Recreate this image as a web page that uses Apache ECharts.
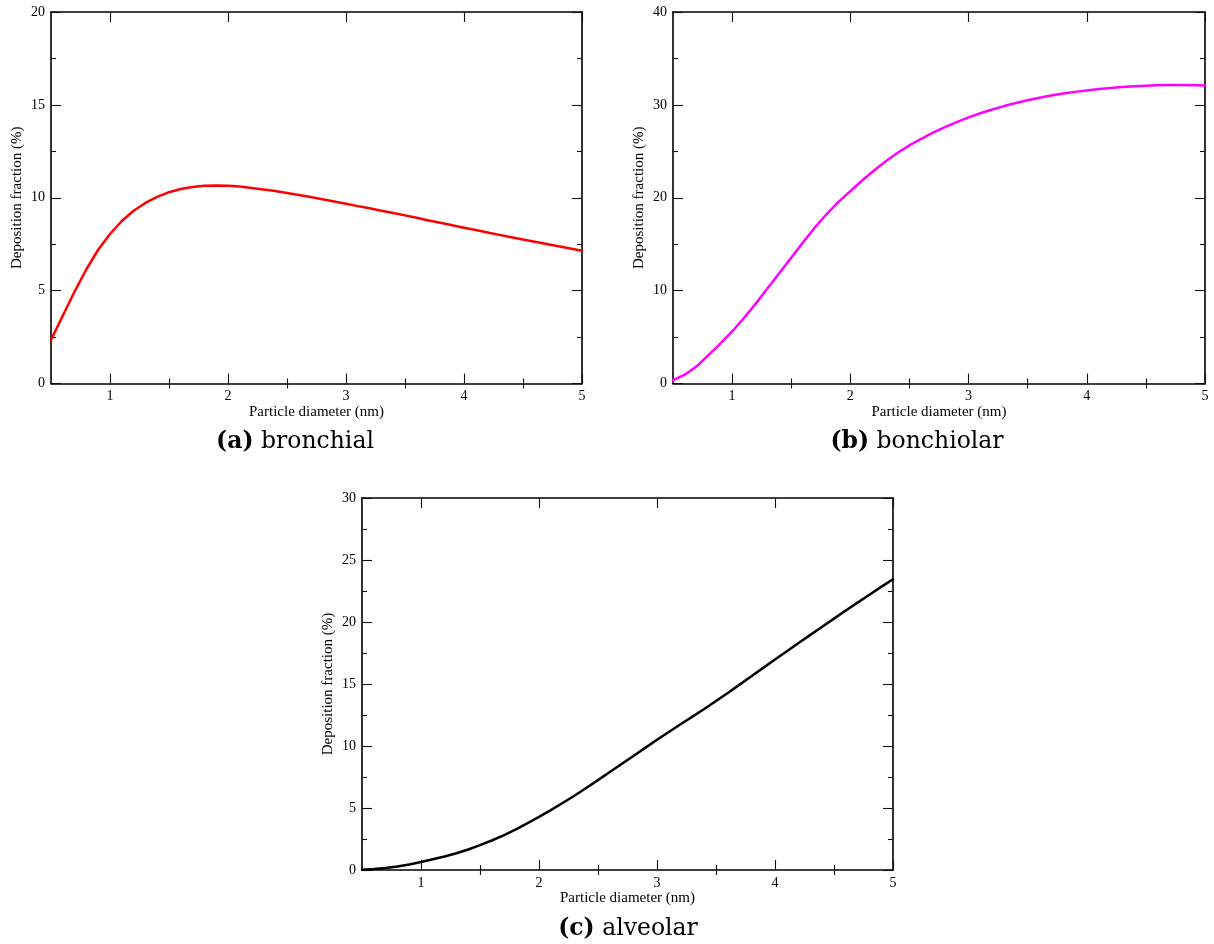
<!DOCTYPE html>
<html lang="en">
  <head>
    <meta charset="utf-8" />
    <title>Deposition fraction</title>
    <style>
      html, body { margin: 0; padding: 0; background: #fff; }
      #chart { width: 1214px; height: 944px; }
    </style>
  </head>
  <body>
    <div id="chart"></div>
    <script src="https://cdn.jsdelivr.net/npm/echarts@6/dist/echarts.min.js"></script>
    <script>
      // particle diameter (nm), shared by all three panels
      var diameters = [0.5, 0.6, 0.7, 0.8, 0.9, 1.0, 1.1, 1.2, 1.3, 1.4, 1.5, 1.6, 1.7, 1.8, 1.9,
                       2.0, 2.1, 2.2, 2.3, 2.4, 2.5, 2.6, 2.7, 2.8, 2.9, 3.0, 3.1, 3.2, 3.3, 3.4,
                       3.5, 3.6, 3.7, 3.8, 3.9, 4.0, 4.1, 4.2, 4.3, 4.4, 4.5, 4.6, 4.7, 4.8, 4.9, 5.0];

      // deposition fraction (%) per region
      var bronchial = [2.35, 3.65, 4.95, 6.15, 7.2, 8.05, 8.75, 9.3, 9.72, 10.05, 10.3, 10.47, 10.58, 10.64, 10.66,
                       10.64, 10.6, 10.53, 10.45, 10.36, 10.26, 10.15, 10.04, 9.92, 9.8, 9.68, 9.55, 9.43, 9.3, 9.18,
                       9.05, 8.92, 8.78, 8.65, 8.52, 8.39, 8.26, 8.13, 8.0, 7.87, 7.75, 7.63, 7.51, 7.39, 7.27, 7.15];
      var bronchiolar = [0.35, 0.95, 1.85, 3.05, 4.3, 5.6, 7.05, 8.6, 10.25, 11.9, 13.55, 15.2, 16.8, 18.25, 19.55,
                         20.72, 21.86, 22.94, 23.94, 24.84, 25.64, 26.35, 27.0, 27.6, 28.15, 28.65, 29.1, 29.5, 29.87, 30.2,
                         30.5, 30.77, 31.01, 31.22, 31.4, 31.56, 31.7, 31.82, 31.92, 32.0, 32.07, 32.12, 32.14, 32.14, 32.12, 32.08];
      var alveolar = [0.02, 0.08, 0.17, 0.29, 0.45, 0.65, 0.86, 1.09, 1.35, 1.65, 2.0, 2.38, 2.8, 3.26, 3.76,
                      4.28, 4.83, 5.4, 5.99, 6.61, 7.25, 7.9, 8.55, 9.2, 9.85, 10.5, 11.13, 11.75, 12.37, 12.99,
                      13.63, 14.28, 14.95, 15.62, 16.3, 16.98, 17.64, 18.3, 18.96, 19.62, 20.27, 20.92, 21.56, 22.2, 22.83, 23.45];

      var xMajor = [1, 2, 3, 4, 5];
      var xMinor = [1.5, 2.5, 3.5, 4.5];
      var yMax = [20, 40, 30];
      var yStep = [5, 10, 5];
      var captions = [['(a)', 'bronchial'], ['(b)', 'bonchiolar'], ['(c)', 'alveolar']];
      var lineColors = ['#ff0000', '#ff00ff', '#000000'];
      var seriesData = [bronchial, bronchiolar, alveolar];

      var serif = '"Liberation Serif", "Times New Roman", serif';

      var grids = [
        { left: 51, top: 12, width: 531, height: 371.5 },
        { left: 673, top: 12, width: 532, height: 371.5 },
        { left: 362, top: 498, width: 531, height: 372 }
      ];
      var captionPos = [[295, 442], [917, 442], [628, 929]];

      var xAxes = [], yAxes = [], series = [], graphics = [];

      function pairs(ys) {
        return diameters.map(function (d, i) { return [d, ys[i]]; });
      }

      grids.forEach(function (g, k) {
        var axisLine = { show: true, onZero: false, lineStyle: { color: '#000', width: 1.6 } };
        var tickStyle = { color: '#111', width: 1.1 };

        // bottom: major ticks + labels
        xAxes.push({
          gridIndex: k, type: 'value', position: 'bottom', min: 0.5, max: 5,
          name: 'Particle diameter (nm)', nameLocation: 'middle', nameGap: 20,
          nameTextStyle: { fontFamily: serif, fontSize: 15, color: '#000' },
          axisLine: axisLine,
          axisTick: { show: true, inside: true, length: 10, customValues: xMajor, lineStyle: tickStyle },
          axisLabel: { show: true, customValues: xMajor, margin: 6, fontFamily: serif, fontSize: 14, color: '#000' },
          splitLine: { show: false }
        });
        // bottom: minor ticks
        xAxes.push({
          gridIndex: k, type: 'value', position: 'bottom', min: 0.5, max: 5,
          axisLine: { show: false },
          axisTick: { show: true, inside: true, length: 5, customValues: xMinor, lineStyle: tickStyle },
          axisLabel: { show: false }, splitLine: { show: false }
        });
        // top mirror
        xAxes.push({
          gridIndex: k, type: 'value', position: 'top', min: 0.5, max: 5,
          axisLine: axisLine,
          axisTick: { show: true, inside: true, length: 10, customValues: xMajor, lineStyle: tickStyle },
          axisLabel: { show: false }, splitLine: { show: false }
        });
        xAxes.push({
          gridIndex: k, type: 'value', position: 'top', min: 0.5, max: 5,
          axisLine: { show: false },
          axisTick: { show: true, inside: true, length: 5, customValues: xMinor, lineStyle: tickStyle },
          axisLabel: { show: false }, splitLine: { show: false }
        });

        var yCommon = {
          gridIndex: k, type: 'value', min: 0, max: yMax[k], interval: yStep[k],
          axisLine: axisLine,
          axisTick: { show: true, inside: true, length: 10, lineStyle: tickStyle },
          minorTick: { show: true, splitNumber: 2, length: 5, lineStyle: tickStyle },
          splitLine: { show: false }, minorSplitLine: { show: false }
        };
        yAxes.push(Object.assign({}, yCommon, {
          position: 'left',
          name: 'Deposition fraction (%)', nameLocation: 'middle', nameGap: 26, nameRotate: 90,
          nameTextStyle: { fontFamily: serif, fontSize: 15, color: '#000' },
          axisLabel: { show: true, margin: 6, fontFamily: serif, fontSize: 14, color: '#000' }
        }));
        yAxes.push(Object.assign({}, yCommon, {
          position: 'right',
          axisLabel: { show: false }
        }));

        series.push({
          type: 'line',
          xAxisIndex: 4 * k,
          yAxisIndex: 2 * k,
          data: pairs(seriesData[k]),
          smooth: false,
          showSymbol: false,
          lineStyle: { color: lineColors[k], width: 2.5, join: 'round', cap: 'round' },
          z: 1
        });

        graphics.push({
          type: 'text',
          x: captionPos[k][0],
          y: captionPos[k][1],
          style: {
            text: '{b|' + captions[k][0] + '} ' + captions[k][1],
            align: 'center',
            verticalAlign: 'middle',
            font: '23.5px "DejaVu Serif", serif',
            fill: '#000',
            rich: {
              b: { fontFamily: '"DejaVu Serif", serif', fontSize: 23.5, fontWeight: 'bold', fill: '#000' }
            }
          }
        });
      });

      var myChart = echarts.init(document.getElementById('chart'));
      myChart.setOption({
        animation: false,
        backgroundColor: '#fff',
        grid: grids,
        xAxis: xAxes,
        yAxis: yAxes,
        series: series,
        graphic: graphics
      });
    </script>
  </body>
</html>
